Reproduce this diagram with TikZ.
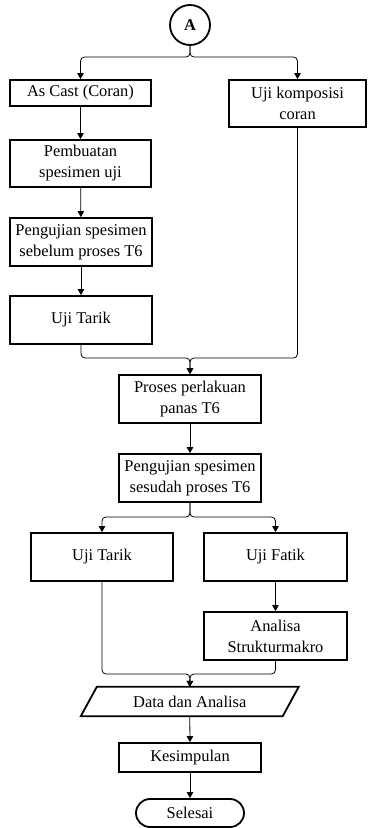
\documentclass[tikz,border=0pt]{standalone}
\usepackage{fontspec}
\setmainfont{Liberation Serif}
\usetikzlibrary{arrows.meta}
\begin{document}
\begin{tikzpicture}[x=1bp,y=-1bp,
  font=\fontsize{16.5}{21}\selectfont,
  box/.style={draw, line width=1.8bp, align=center, inner sep=0pt},
  conn/.style={line width=0.8bp, rounded corners=4bp},
  arr/.style={conn, -{Triangle[length=6bp,width=6.5bp]}}]
\useasboundingbox (0,0) rectangle (368,828);
\node[draw, circle, line width=1.8bp, minimum size=40bp, inner sep=0pt, font=\fontsize{16.5}{21}\selectfont\bfseries] (A) at (190,25) {A};
\node[box, minimum width=141bp, minimum height=26bp] (asc) at (80.5,93) {As Cast (Coran)};
\node[box, minimum width=137bp, minimum height=47bp] (komp) at (297.5,103.5) {Uji komposisi\\coran};
\node[box, minimum width=141bp, minimum height=47bp] (pemb) at (80.5,163.5) {Pembuatan\\spesimen uji};
\node[box, minimum width=142bp, minimum height=48bp] (peng1) at (81,242) {Pengujian spesimen\\sebelum proses T6};
\node[box, minimum width=142bp, minimum height=48bp] (tarik1) at (81,320) {Uji Tarik};
\node[box, minimum width=142bp, minimum height=48bp] (proses) at (190,399) {Proses perlakuan\\panas T6};
\node[box, minimum width=142bp, minimum height=48bp] (peng2) at (190,478) {Pengujian spesimen\\sesudah proses T6};
\node[box, minimum width=142bp, minimum height=48bp] (tarik2) at (102,557) {Uji Tarik};
\node[box, minimum width=143bp, minimum height=48bp] (fatik) at (275.5,557) {Uji Fatik};
\node[box, minimum width=143bp, minimum height=48bp] (anal) at (275.5,636) {Analisa\\Strukturmakro};
\node[align=center, inner sep=0pt, minimum width=201.5bp, minimum height=29bp] (data) at (189.75,701.5) {Data dan Analisa};
\draw[line width=1.8bp, line join=miter] ([xshift=8bp]data.north west) -- ([xshift=8bp]data.north east) -- ([xshift=-8bp]data.south east) -- ([xshift=-8bp]data.south west) -- cycle;
\node[box, minimum width=142bp, minimum height=29bp] (kesim) at (190,757.5) {Kesimpulan};
\node[box, rounded corners=14bp, minimum width=108bp, minimum height=28bp] (sel) at (190,813) {Selesai};

\coordinate (s1) at (190,57);
\coordinate (m1) at (190,358);
\coordinate (s2) at (190,517);
\coordinate (m2) at (190,674);

\draw[arr] (A.south) -- (s1) -| (asc.north);
\draw[arr] (A.south) -- (s1) -| (komp.north);
\draw[arr] (asc) -- (pemb);
\draw[arr] (pemb) -- (peng1);
\draw[arr] (peng1) -- (tarik1);
\draw[arr] (tarik1.south) |- (m1) -- (proses.north);
\draw[arr] (komp.south) |- (m1) -- (proses.north);
\draw[arr] (proses) -- (peng2);
\draw[arr] (peng2.south) -- (s2) -| (tarik2.north);
\draw[arr] (peng2.south) -- (s2) -| (fatik.north);
\draw[arr] (fatik) -- (anal);
\draw[arr] (tarik2.south) |- (m2) -- (data.north);
\draw[arr] (anal.south) |- (m2) -- (data.north);
\draw[arr] (data.south) -- (kesim.north);
\draw[arr] (kesim) -- (sel);
\end{tikzpicture}
\end{document}
